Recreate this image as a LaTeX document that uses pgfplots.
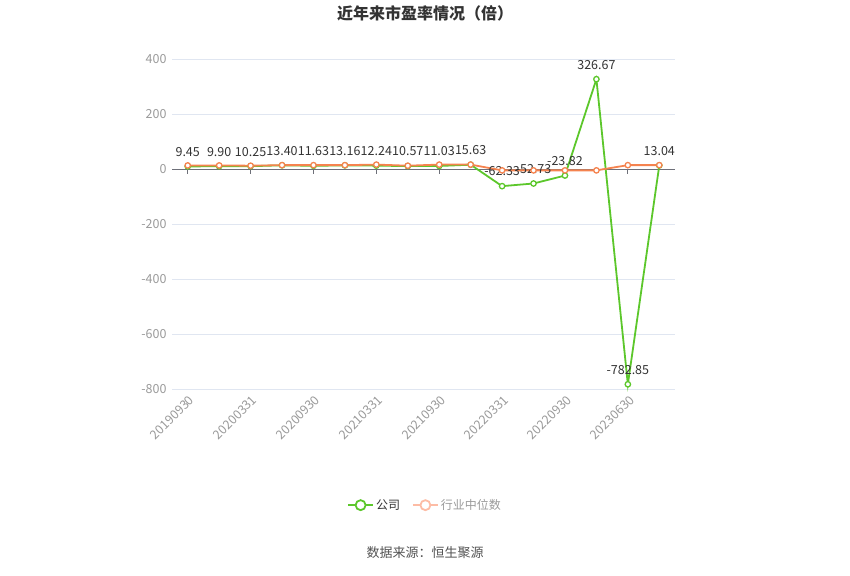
\documentclass[border=0pt]{standalone}
\usepackage{pgfplots}
\usepackage{pgfplotstable}
\pgfplotsset{compat=1.18}
\usepackage{fontspec}
\setmainfont{Noto Sans CJK SC}

\definecolor{cgreen}{HTML}{5CC72B}
\definecolor{corange}{HTML}{F5834F}
\definecolor{lorange}{HTML}{FDBCA5}
\definecolor{gridc}{HTML}{E0E6F1}
\definecolor{axisc}{HTML}{6E7079}
\definecolor{tickc}{HTML}{9A9A9A}
\definecolor{textc}{HTML}{333333}

\pgfplotstableread{
x y lab
0 9.45 9.45
1 9.90 9.90
2 10.25 10.25
3 13.40 13.40
4 11.63 11.63
5 13.16 13.16
6 12.24 12.24
7 10.57 10.57
8 11.03 11.03
9 15.63 15.63
10 -62.33 -62.33
11 -52.73 -52.73
12 -23.82 -23.82
13 326.67 326.67
14 -782.85 -782.85
15 13.04 13.04
}\company

\pgfplotstableread{
x y
0 13
1 13
2 12
3 14
4 14
5 14
6 16
7 12
8 16
9 16
10 -5
11 -5
12 -5
13 -5
14 14
15 14
}\industry

\begin{document}
\begin{tikzpicture}[x=1pt,y=1pt]
\useasboundingbox (0,0) rectangle (850,575);
\node[font=\fontsize{16}{18}\selectfont\bfseries, text=textc] at (425,562) {近年来市盈率情况（倍）};
\node[font=\fontsize{13}{15}\selectfont, text=textc!85] at (425,22) {数据来源：恒生聚源};
\begin{axis}[
    at={(172pt,186pt)}, anchor=south west,
    scale only axis, width=503pt, height=330pt,
    xmin=-0.5, xmax=15.5, ymin=-800, ymax=400,
    axis line style={draw=none},
    major tick length=0pt,
    ytick={-800,-600,-400,-200,0,200,400},
    yticklabels={-800,-600,-400,-200,0,200,400},
    xtick={0,2,...,14},
    xticklabels={20190930,20200331,20200930,20210331,20210930,20220331,20220930,20230630},
    ymajorgrids, grid style={gridc, line width=0.8pt},
    yticklabel style={font=\fontsize{12.5}{14}\selectfont, text=tickc, xshift=-2pt},
    xticklabel style={font=\fontsize{12.5}{14}\selectfont, text=tickc, rotate=45, anchor=north east, yshift=-1pt},
    clip=false,
    legend style={at={(0.503,-0.352)}, anchor=center, draw=none, fill=none,
      legend columns=2, font=\fontsize{12}{14}\selectfont,
      /tikz/every even column/.append style={column sep=10pt}},
  ]
  \draw[axisc, line width=0.8pt] (axis cs:-0.5,0) -- (axis cs:15.5,0);
  \pgfplotsinvokeforeach{0,2,4,6,8,10,12,14}{
    \draw[axisc, line width=0.8pt] (axis cs:#1,0) -- ([yshift=-5pt]axis cs:#1,0);
  }
  \addplot[cgreen, line width=1.8pt, mark=*, mark size=2.7pt,
    mark options={fill=white, draw=cgreen, line width=1.3pt},
    point meta=explicit symbolic,
    nodes near coords,
    every node near coord/.append style={font=\fontsize{12.5}{14}\selectfont, text=textc, anchor=south, yshift=6pt, inner xsep=0pt},
    legend image code/.code={
      \draw[cgreen, line width=1.8pt] (0pt,0pt) -- (25pt,0pt);
      \draw[cgreen, line width=1.8pt, fill=white] (12.5pt,0pt) circle (5pt);
    }]
    table[x=x, y=y, meta=lab] {\company};
  \addlegendentry{\textcolor{textc}{公司}}
  \addplot[corange, line width=1.8pt, mark=*, mark size=2.7pt,
    mark options={fill=white, draw=corange, line width=1.3pt},
    legend image code/.code={
      \draw[lorange, line width=1.8pt] (0pt,0pt) -- (25pt,0pt);
      \draw[lorange, line width=1.8pt, fill=white] (12.5pt,0pt) circle (5pt);
    }]
    table[x=x, y=y] {\industry};
  \addlegendentry{\textcolor{tickc}{行业中位数}}
\end{axis}
\end{tikzpicture}
\end{document}
